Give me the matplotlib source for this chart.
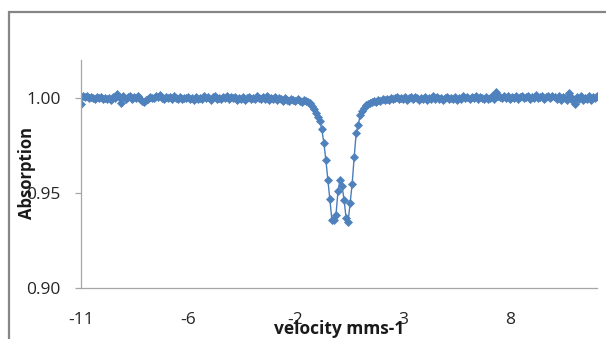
import matplotlib
matplotlib.use("Agg")
import matplotlib.pyplot as plt
from matplotlib.patches import Rectangle

# Absorption values per channel (256 channels)
absorption = [
    # left baseline (0-111)
    0.9968, 1.0008, 1.0003, 1.0010, 0.9998, 1.0006, 1.0001, 0.9995, 1.0004, 0.9999,
    1.0007, 0.9996, 1.0002, 0.9994, 1.0000, 0.9992, 1.0003, 0.9998, 1.0021, 1.0005,
    0.9972, 1.0009, 0.9997, 1.0004, 1.0012, 0.9996, 1.0003, 0.9999, 1.0008, 0.9993,
    0.9985, 0.9978, 0.9990, 0.9996, 1.0006, 1.0001, 0.9998, 1.0011, 1.0004, 1.0016,
    1.0002, 0.9994, 1.0007, 0.9999, 1.0003, 0.9996, 1.0009, 1.0000, 0.9997, 1.0005,
    0.9993, 1.0002, 0.9998, 1.0006, 0.9995, 1.0001, 0.9990, 1.0004, 0.9997, 1.0000,
    0.9994, 1.0008, 0.9999, 1.0003, 0.9991, 1.0005, 1.0012, 0.9996, 1.0002, 0.9993,
    1.0006, 0.9998, 1.0010, 0.9995, 1.0003, 0.9999, 1.0007, 0.9992, 1.0001, 0.9996,
    1.0004, 0.9989, 0.9998, 1.0006, 0.9994, 1.0002, 0.9997, 1.0009, 0.9999, 0.9993,
    1.0003, 0.9996, 1.0008, 0.9990, 1.0001, 0.9995, 1.0005, 0.9987, 0.9998, 0.9993,
    0.9986, 1.0000, 0.9991, 0.9984, 0.9995, 0.9989, 0.9982, 0.9993, 0.9986, 0.9980,
    0.9988, 0.9984,
    # absorption doublet (112-143)
    0.9978, 0.9972, 0.9958, 0.9940, 0.9920, 0.9898, 0.9880, 0.9835, 0.9765, 0.9675,
    0.9570, 0.9467, 0.9358, 0.9360, 0.9384, 0.9510, 0.9568, 0.9537, 0.9463, 0.9370,
    0.9349, 0.9446, 0.9547, 0.9690, 0.9814, 0.9858, 0.9910, 0.9930, 0.9950, 0.9962,
    0.9968, 0.9975,
    # right baseline (144-255)
    0.9978, 0.9985, 0.9981, 0.9990, 0.9986, 0.9994, 0.9989, 0.9997, 0.9992, 1.0002,
    0.9995, 0.9999, 1.0006, 0.9993, 1.0001, 0.9996, 1.0004, 0.9990, 0.9998, 1.0003,
    0.9994, 1.0007, 0.9999, 0.9992, 1.0002, 0.9996, 1.0005, 0.9991, 1.0000, 0.9995,
    1.0008, 0.9997, 1.0003, 0.9993, 1.0001, 0.9989, 0.9999, 1.0006, 0.9995, 1.0002,
    0.9997, 1.0005, 0.9992, 1.0001, 0.9996, 1.0008, 0.9998, 1.0003, 0.9994, 1.0006,
    0.9999, 1.0010, 0.9995, 1.0004, 1.0000, 0.9993, 1.0007, 0.9997, 1.0002, 1.0009,
    0.9996, 1.0031, 1.0012, 1.0004, 0.9998, 1.0008, 1.0002, 1.0010, 0.9995, 1.0006,
    1.0001, 1.0013, 0.9997, 1.0005, 1.0009, 0.9999, 1.0003, 1.0011, 0.9996, 1.0007,
    1.0002, 1.0014, 0.9998, 1.0006, 1.0010, 0.9994, 1.0004, 1.0008, 0.9999, 1.0012,
    1.0003, 0.9996, 1.0009, 0.9992, 1.0005, 1.0001, 0.9990, 1.0024, 1.0006, 0.9985,
    0.9966, 1.0004, 0.9993, 1.0011, 0.9988, 1.0002, 0.9996, 1.0009, 0.9991, 1.0003,
    0.9998, 1.0012,
]

# category-axis labels (every 53rd channel) and y ticks
xtick_channels = [0, 53, 106, 159, 212]
xtick_labels = ["-11", "-6", "-2", "3", "8"]
ytick_values = [0.90, 0.95, 1.00]
ytick_labels = ["0.90", "0.95", "1.00"]

channels = list(range(len(absorption)))

plt.rcParams['font.family'] = ['Open Sans', 'DejaVu Sans']

W, H = 606, 339
fig = plt.figure(figsize=(W / 100, H / 100), dpi=100)
fig.patch.set_facecolor('white')

# outer chart-area border
fig.patches.append(Rectangle((9 / W, -0.2), 1.2, 1.2 - 12 / H,
                             transform=fig.transFigure, fill=False,
                             edgecolor='#868686', linewidth=1.6, zorder=0))

ax = fig.add_axes([81 / W, 1 - 288 / H, (597 - 81) / W, (288 - 60) / H])
ax.plot(channels, absorption, color='#4A7EBB', linewidth=1.0,
        marker='D', markersize=3.9, markerfacecolor='#4F81BD',
        markeredgecolor='#4F81BD', markeredgewidth=0.5)

ax.set_xlim(0, len(absorption) - 1)
ax.set_ylim(0.90, 1.02)
ax.set_xticks(xtick_channels)
ax.set_xticklabels(xtick_labels)
ax.set_yticks(ytick_values)
ax.set_yticklabels(ytick_labels)

for s in ['top', 'right']:
    ax.spines[s].set_visible(False)
for s in ['left', 'bottom']:
    ax.spines[s].set_color('#A6A6A6')
    ax.spines[s].set_linewidth(0.9)

ax.tick_params(axis='x', length=0, pad=17, labelsize=12.5, colors='#262626')
ax.tick_params(axis='y', length=4.3, width=0.9, color='#A6A6A6', pad=10.5,
               labelsize=12.5, labelcolor='#262626')

fig.text(27 / W, 1 - 173 / H, 'Absorption', rotation=90, ha='center',
         va='center', fontsize=12, fontweight='bold', color='#1a1a1a')
fig.text(339 / W, 1 - 329 / H, 'velocity mms-1', ha='center', va='center',
         fontsize=12.5, fontweight='bold', color='#1a1a1a')

fig.savefig('out.png', dpi=100, facecolor='white')
